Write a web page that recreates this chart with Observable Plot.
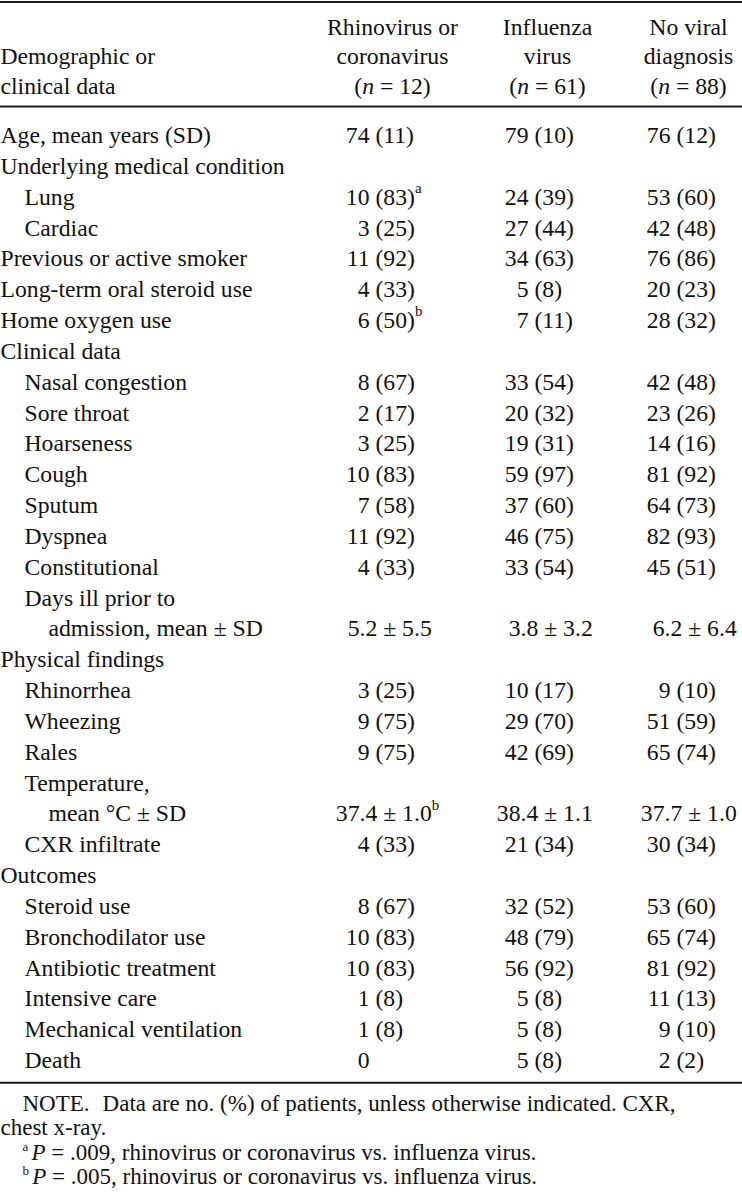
<!DOCTYPE html>
<html><head><meta charset="utf-8">
<script src="https://cdn.jsdelivr.net/npm/d3@7"></script>
<script src="https://cdn.jsdelivr.net/npm/@observablehq/plot@0.6"></script>
<style>html,body{margin:0;padding:0;background:#fff}</style>
</head><body><div id="chart"></div>
<script>
// ---------- DATA ----------
const headerLabel = ["Demographic or", "clinical data"];
const groupHeaders = [
  ["Rhinovirus or", "coronavirus", "(n = 12)"],
  ["Influenza", "virus", "(n = 61)"],
  ["No viral", "diagnosis", "(n = 88)"]
];
const rowLabels = [
  "Age, mean years (SD)", "Underlying medical condition", "Lung", "Cardiac",
  "Previous or active smoker", "Long-term oral steroid use", "Home oxygen use",
  "Clinical data", "Nasal congestion", "Sore throat", "Hoarseness", "Cough",
  "Sputum", "Dyspnea", "Constitutional", "Days ill prior to", "admission, mean ± SD",
  "Physical findings", "Rhinorrhea", "Wheezing", "Rales", "Temperature,",
  "mean °C ± SD", "CXR infiltrate", "Outcomes", "Steroid use", "Bronchodilator use",
  "Antibiotic treatment", "Intensive care", "Mechanical ventilation", "Death"
];
const rowLevel = [0,0,1,1,0,0,0,0,1,1,1,1,1,1,1,1,2,0,1,1,1,1,2,1,0,1,1,1,1,1,1];
const rhinoCorona = ["74 (11)","","10 (83)","3 (25)","11 (92)","4 (33)","6 (50)","","8 (67)","2 (17)","3 (25)","10 (83)","7 (58)","11 (92)","4 (33)","","5.2 ± 5.5","","3 (25)","9 (75)","9 (75)","","37.4 ± 1.0","4 (33)","","8 (67)","10 (83)","10 (83)","1 (8)","1 (8)","0"];
const influenza   = ["79 (10)","","24 (39)","27 (44)","34 (63)","5 (8)","7 (11)","","33 (54)","20 (32)","19 (31)","59 (97)","37 (60)","46 (75)","33 (54)","","3.8 ± 3.2","","10 (17)","29 (70)","42 (69)","","38.4 ± 1.1","21 (34)","","32 (52)","48 (79)","56 (92)","5 (8)","5 (8)","5 (8)"];
const noViral     = ["76 (12)","","53 (60)","42 (48)","76 (86)","20 (23)","28 (32)","","42 (48)","23 (26)","14 (16)","81 (92)","64 (73)","82 (93)","45 (51)","","6.2 ± 6.4","","9 (10)","51 (59)","65 (74)","","37.7 ± 1.0","30 (34)","","53 (60)","65 (74)","81 (92)","11 (13)","9 (10)","2 (2)"];
const footMarks = [[2, 0, "a"], [6, 0, "b"], [22, 0, "b"]]; // [row, column, mark]
const noteLead = "NOTE.";
const noteLine1 = "Data are no. (%) of patients, unless otherwise indicated. CXR,";
const noteLine2 = "chest x-ray.";
const footnotes = [
  ["a", " = .009, rhinovirus or coronavirus vs. influenza virus."],
  ["b", " = .005, rhinovirus or coronavirus vs. influenza virus."]
];

// ---------- LAYOUT ----------
const FONT = '"Liberation Serif", "Times New Roman", serif';
const BODY = 23.7, NOTE = 23, SUP = 15, NOTESUP = 13;
const indentPx = [0, 24, 48];
const intAnchor = [369, 528, 670];   // right edge of leading integer, count (%) cells
const decAnchor = [359, 520, 664];   // right edge of integer part, mean ± SD cells
const headCenter = [392, 547, 688];
const headerRows = [-3.5, -2.56, -1.59];
const ruleRows = [-4.33, -0.94, 30.72];
const noteRows = [31.4, 32.18, 32.99, 33.77];

const ctx = document.createElement("canvas").getContext("2d");
function tw(t, size, italic) {
  ctx.font = `${italic ? "italic " : ""}${size}px ${FONT}`;
  return ctx.measureText(t).width;
}
const pieces = [];
// segs: [text, style] style: "n" | "i" | "s"
function seqWidth(segs, size, supSize) {
  return segs.reduce((a, [t, s]) => a + (s === "s" ? tw(t, supSize) : tw(t, size, s === "i")), 0);
}
function addSeq(segs, x, row, size, supSize) {
  for (const [t, s] of segs) {
    const sz = s === "s" ? supSize : size;
    const lead = t.match(/^ */)[0];
    const body = t.slice(lead.length);
    const x0 = x + (lead ? tw(lead, sz, s === "i") : 0);
    if (body) pieces.push({x: x0, row, text: body, style: s, size: sz});
    x += tw(t, sz, s === "i");
  }
  return x;
}
function parseItalicN(t) {
  const m = t.match(/^\((n)(.*)$/);
  return m ? [["(", "n"], ["n", "i"], [m[2], "n"]] : [[t, "n"]];
}

// header
headerLabel.forEach((t, k) => addSeq([[t, "n"]], 0, headerRows[k + 1], BODY, SUP));
groupHeaders.forEach((lines, c) => lines.forEach((t, k) => {
  const segs = parseItalicN(t);
  const w = seqWidth(segs, BODY, SUP);
  addSeq(segs, headCenter[c] - w / 2, headerRows[k], BODY, SUP);
}));
// body
const columns = [rhinoCorona, influenza, noViral];
rowLabels.forEach((t, i) => addSeq([[t, "n"]], indentPx[rowLevel[i]], i, BODY, SUP));
columns.forEach((vals, c) => vals.forEach((v, i) => {
  if (!v) return;
  const lead = v.match(/^\d+/)[0];
  const anchor = v.includes("±") ? decAnchor[c] : intAnchor[c];
  const segs = [[v, "n"]];
  const fm = footMarks.find(([r, cc]) => r === i && cc === c);
  if (fm) segs.push([fm[2], "s"]);
  addSeq(segs, anchor - tw(lead, BODY), i, BODY, SUP);
}));
// notes
{
  const x1 = addSeq([[noteLead, "n"]], 22, noteRows[0], NOTE, NOTESUP);
  addSeq([[noteLine1, "n"]], x1 + 13, noteRows[0], NOTE, NOTESUP);
  addSeq([[noteLine2, "n"]], 0, noteRows[1], NOTE, NOTESUP);
  footnotes.forEach(([m, t], k) =>
    addSeq([[m, "s"], [" ", "s"], ["P", "i"], [t, "n"]], 22, noteRows[2 + k], NOTE, NOTESUP));
}

const chart = Plot.plot({
  width: 742, height: 1200,
  marginTop: 0, marginRight: 0, marginBottom: 0, marginLeft: 0,
  style: {fontFamily: FONT, color: "#111", background: "#fff"},
  x: {domain: [0, 742], range: [0, 742], axis: null},
  y: {domain: [0, 30], range: [135, 1060], axis: null},
  marks: [
    Plot.ruleY(ruleRows, {stroke: "#1a1a1a", strokeWidth: 2}),
    Plot.text(pieces.filter(d => d.style === "n"), {x: "x", y: "row", text: "text", textAnchor: "start", fontSize: "size", fill: "#111"}),
    Plot.text(pieces.filter(d => d.style === "i"), {x: "x", y: "row", text: "text", textAnchor: "start", fontSize: "size", fontStyle: "italic", fill: "#111"}),
    Plot.text(pieces.filter(d => d.style === "s" && d.size === SUP), {x: "x", y: "row", text: "text", textAnchor: "start", fontSize: "size", dy: -9, fill: "#111"}),
    Plot.text(pieces.filter(d => d.style === "s" && d.size === NOTESUP), {x: "x", y: "row", text: "text", textAnchor: "start", fontSize: "size", dy: -6, fill: "#111"})
  ]
});
document.getElementById("chart").appendChild(chart);
</script></body></html>
